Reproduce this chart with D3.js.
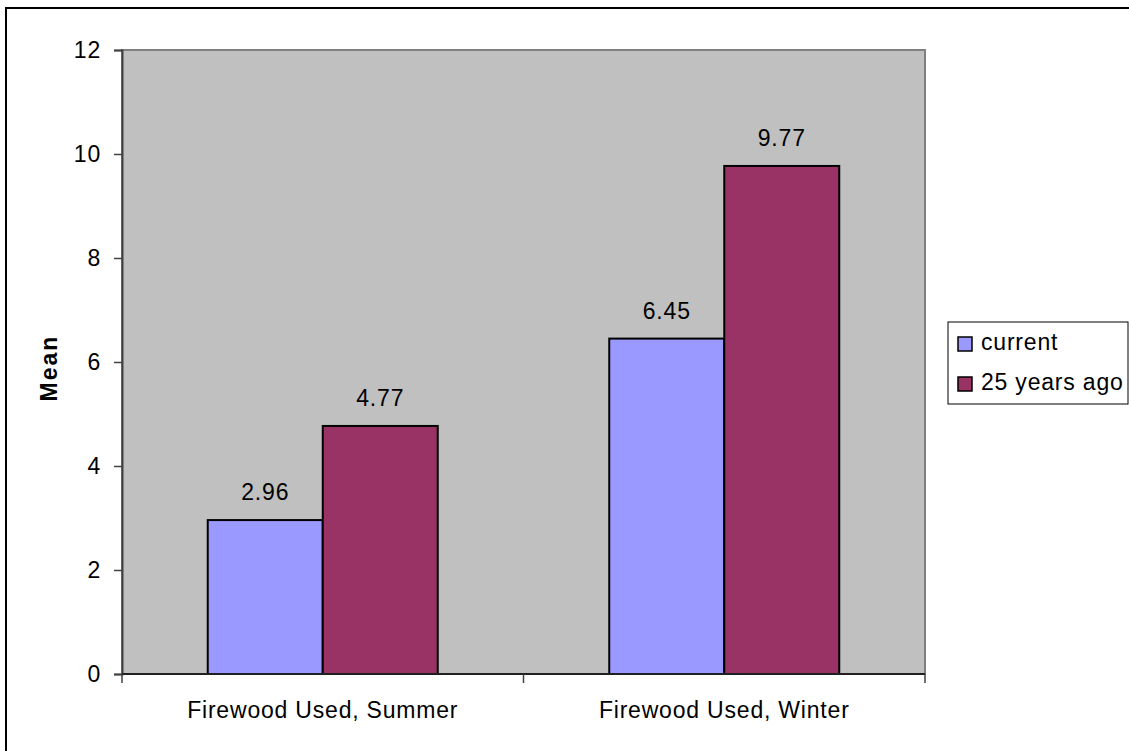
<!DOCTYPE html>
<html>
<head>
<meta charset="utf-8">
<script src="https://cdn.jsdelivr.net/npm/d3@7"></script>
<style>
    body { margin: 0; background: #fff; }
    text { font-family: "Liberation Sans", Arial, sans-serif; fill: #000; }
</style>
</head>
<body>
<script>
// chart values
var categories = ["Firewood Used, Summer", "Firewood Used, Winter"];
var seriesNames = ["current", "25 years ago"];
var currentValues = [2.96, 6.45];
var agoValues = [4.77, 9.77];
var yTicks = [0, 2, 4, 6, 8, 10, 12];
var seriesColors = ["#9999FF", "#993366"];

var W = 1129, H = 751;
// plot area in page pixels
var plot = {left: 122, top: 50, right: 925, bottom: 674};
var FONT = "23px";
var SPACING = "0.8px";

var svg = d3.select("body").append("svg")
    .attr("width", W)
    .attr("height", H);

// outer chart border (runs off the right and bottom edge)
svg.append("rect")
    .attr("x", 6).attr("y", 8)
    .attr("width", W + 10).attr("height", H + 10)
    .attr("fill", "#fff")
    .attr("stroke", "#000")
    .attr("stroke-width", 2);

var xScale = d3.scaleBand()
    .domain(categories)
    .range([plot.left, plot.right]);

var xInner = d3.scaleBand()
    .domain(seriesNames)
    .range([0, 230]);

var yScale = d3.scaleLinear()
    .domain([0, 12])
    .range([plot.bottom, plot.top]);

// grey plot area
svg.append("rect")
    .attr("x", plot.left).attr("y", plot.top)
    .attr("width", plot.right - plot.left)
    .attr("height", plot.bottom - plot.top)
    .attr("fill", "#C0C0C0")
    .attr("stroke", "#808080")
    .attr("stroke-width", 2);

// build rows for the bars
var rows = [];
categories.forEach(function(c, i) {
    rows.push({cat: c, series: seriesNames[0], value: currentValues[i], k: 0});
    rows.push({cat: c, series: seriesNames[1], value: agoValues[i], k: 1});
});

var offset = (xScale.bandwidth() - 230) / 2;

svg.selectAll("rect.bar")
    .data(rows)
    .enter()
    .append("rect")
    .attr("class", "bar")
    .attr("x", function(d) { return xScale(d.cat) + offset + xInner(d.series); })
    .attr("y", function(d) { return yScale(d.value); })
    .attr("width", xInner.bandwidth())
    .attr("height", function(d) { return yScale(0) - yScale(d.value); })
    .attr("fill", function(d) { return seriesColors[d.k]; })
    .attr("stroke", "#000")
    .attr("stroke-width", 2);

// value labels above each bar
svg.selectAll("text.val")
    .data(rows)
    .enter()
    .append("text")
    .attr("class", "val")
    .attr("x", function(d) {
        return xScale(d.cat) + offset + xInner(d.series) + xInner.bandwidth() / 2;
    })
    .attr("y", function(d) { return yScale(d.value) - 20; })
    .attr("text-anchor", "middle")
    .attr("font-size", FONT)
    .style("letter-spacing", SPACING)
    .text(function(d) { return d.value.toFixed(2); });

// y axis
var yAxis = d3.axisLeft(yScale)
    .tickValues(yTicks)
    .tickSize(8)
    .tickPadding(13)
    .tickFormat(d3.format("d"));

var gy = svg.append("g")
    .attr("transform", "translate(" + plot.left + ",0)")
    .call(yAxis);
gy.select(".domain").attr("stroke", "#404040").attr("stroke-width", 2);
gy.selectAll(".tick line").attr("stroke", "#404040").attr("stroke-width", 1.5);
gy.selectAll(".tick text")
    .attr("font-size", FONT)
    .style("letter-spacing", SPACING)
    .style("font-family", "Liberation Sans, Arial, sans-serif");

// x axis: ticks at category boundaries
var gx = svg.append("g")
    .attr("transform", "translate(0," + plot.bottom + ")");
gx.append("line")
    .attr("x1", plot.left).attr("x2", plot.right)
    .attr("stroke", "#202020").attr("stroke-width", 2);
var bounds = categories.map(function(c) { return xScale(c); })
    .concat([plot.right]);
gx.selectAll("line.tk")
    .data(bounds)
    .enter()
    .append("line")
    .attr("class", "tk")
    .attr("x1", function(d) { return d; })
    .attr("x2", function(d) { return d; })
    .attr("y1", 0).attr("y2", 9)
    .attr("stroke", "#404040").attr("stroke-width", 1.5);
gx.selectAll("text.cat")
    .data(categories)
    .enter()
    .append("text")
    .attr("class", "cat")
    .attr("x", function(d) { return xScale(d) + xScale.bandwidth() / 2; })
    .attr("y", 44)
    .attr("text-anchor", "middle")
    .attr("font-size", FONT)
    .style("letter-spacing", SPACING)
    .text(function(d) { return d; });

// y axis title
svg.append("text")
    .attr("transform", "translate(57,368) rotate(-90)")
    .attr("text-anchor", "middle")
    .attr("font-size", "23px")
    .attr("font-weight", "bold")
    .style("letter-spacing", "2px")
    .text("Mean");

// legend
var legend = svg.append("g");
legend.append("rect")
    .attr("x", 948).attr("y", 322)
    .attr("width", 180).attr("height", 82)
    .attr("fill", "#fff")
    .attr("stroke", "#000")
    .attr("stroke-width", 1);
var items = legend.selectAll("g.item")
    .data(seriesNames)
    .enter()
    .append("g")
    .attr("class", "item")
    .attr("transform", function(d, i) { return "translate(958," + (337 + i * 40) + ")"; });
items.append("rect")
    .attr("width", 14).attr("height", 14)
    .attr("fill", function(d, i) { return seriesColors[i]; })
    .attr("stroke", "#000")
    .attr("stroke-width", 1.5);
items.append("text")
    .attr("x", 23).attr("y", 13)
    .attr("font-size", FONT)
    .style("letter-spacing", SPACING)
    .text(function(d) { return d; });
</script>
</body>
</html>
